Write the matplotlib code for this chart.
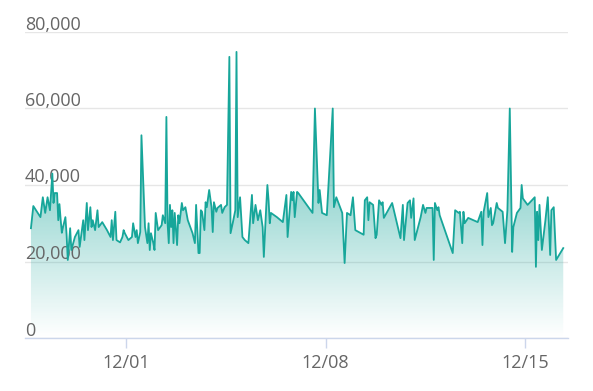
import numpy as np
import pandas as pd
import matplotlib
matplotlib.use("Agg")
import matplotlib.pyplot as plt
import matplotlib.dates as mdates
import matplotlib.transforms as mtransforms
from matplotlib.colors import LinearSegmentedColormap

# hours since 2023-11-27 00:00, values in thousands
hours = [
    16, 18, 24, 26, 28, 30, 32, 34, 35, 36, 38, 39, 40, 41, 42, 43, 45, 46, 47, 49,
    50, 53, 56, 57, 60, 61, 63, 64, 66, 67, 68, 70, 72, 73, 76, 80, 83, 84, 85, 87,
    88, 91, 93, 94, 95, 98, 101,
    102, 104, 105, 106, 108, 109, 112, 114, 115, 116, 117, 119, 120, 121, 123, 126,
    127, 129, 130, 131, 132, 133, 134, 135, 136, 137, 139, 140, 141, 143, 144, 146,
    148, 152, 154, 155, 157, 158, 159, 160, 162, 163, 164, 166, 168, 169, 170, 172,
    173, 176, 177, 179, 181, 183, 184, 186, 188, 189, 190, 192, 194, 196,
    199, 202, 203, 205, 207, 209, 211, 212, 214, 215, 216, 217, 218, 223, 228, 231,
    232, 235, 236, 237, 238, 240, 241, 253, 255, 258, 259, 261, 265, 270, 271, 273,
    278, 280, 282, 285,
    287, 289, 296, 297, 299, 300, 301, 304, 306, 307, 309, 311, 312, 313, 320, 327,
    329, 330, 333, 335, 336, 338, 339, 344, 346, 348, 349, 354, 355, 356, 358, 359,
    360, 371,
    373, 376, 377, 379, 380, 381, 384, 392, 395, 396, 397, 400, 401, 403, 404, 405,
    408, 409, 413, 415, 417, 419, 421, 422, 425, 428, 429, 430, 434, 440, 441, 442,
    443, 444, 446, 449, 451, 453, 454, 456, 458, 464,
]
values = [
    28.7, 34.5, 31.6, 36.8, 32.7, 36.8, 33.4, 43.0, 35.3, 37.9, 37.9, 30.8, 35.0, 31.0,
    27.5, 29.0, 31.6, 27.0, 20.4, 28.7, 23.0, 26.4, 28.2, 23.8, 30.8, 25.6, 35.3, 28.2,
    34.2, 29.0, 30.8, 28.2, 33.4, 29.0, 30.3, 28.2, 26.4, 30.8, 25.6, 33.0, 25.6, 25.0,
    26.4, 28.2, 27.4, 25.6, 26.4,
    30.0, 26.4, 28.2, 24.8, 27.7, 53.0, 29.0, 24.8, 30.0, 23.0, 27.4, 24.8, 23.0, 32.7,
    28.2, 29.5, 32.1, 30.0, 57.8, 30.0, 24.8, 34.8, 29.0, 33.4, 24.8, 32.7, 24.3, 32.1,
    30.0, 35.3, 33.4, 34.2, 30.8, 27.4, 24.8, 34.8, 22.2, 22.2, 33.4, 33.0, 28.2, 35.5,
    34.2, 38.7, 34.2, 27.7, 35.5, 33.0, 34.0, 34.8, 32.7, 34.2, 34.8, 73.5, 27.4, 30.3,
    33.4, 74.8, 31.6, 36.8, 26.4, 25.6,
    24.8, 37.4, 30.0, 34.8, 30.8, 33.4, 29.0, 21.2, 34.2, 40.0, 36.0, 30.0, 32.7, 31.6,
    30.3, 37.4, 26.4, 38.2, 36.0, 38.2, 31.6, 38.2, 37.9, 32.7, 60.0, 35.3, 38.7, 32.7,
    32.1, 60.0, 34.2, 36.8, 32.7, 19.6, 32.7, 32.1,
    36.8, 28.2, 27.0, 36.0, 36.8, 30.8, 35.5, 34.8, 26.1, 27.0, 36.0, 34.8, 35.5, 31.4,
    35.3, 26.1, 34.8, 25.6, 35.3, 36.0, 31.4, 36.5, 25.6, 31.6, 34.8, 32.7, 34.0, 34.0,
    20.4, 35.3, 33.4, 34.2, 32.1, 22.2,
    33.4, 32.7, 33.0, 24.8, 33.0, 30.0, 31.4, 30.3, 33.0, 24.3, 33.0, 37.9, 31.6, 34.0,
    29.5, 30.0, 35.3, 34.0, 33.0, 24.8, 33.4, 60.0, 22.5, 29.0, 32.7, 34.0, 40.0, 36.5,
    34.8, 36.8, 18.6, 33.0, 25.6, 34.8, 23.0, 30.8, 36.8, 21.7, 33.4, 34.2, 20.4, 23.5,
]
y_ticks = [0, 20000, 40000, 60000, 80000]
x_ticks = ["2023-12-01", "2023-12-08", "2023-12-15"]

start = pd.Timestamp("2023-11-27")
times = start + pd.to_timedelta(hours, unit="h")
vals = np.array(values) * 1000
xnum = mdates.date2num(times.to_pydatetime())

line_color = "#17a69a"

fig = plt.figure(figsize=(5.93, 3.91), dpi=100)
ax = fig.add_axes([25 / 593, 53 / 391, 543 / 593, 306 / 391])

ax.set_ylim(0, 80000)
ax.set_xlim(start + pd.Timedelta(hours=11), start + pd.Timedelta(hours=468))

# gradient area under the line
poly = ax.fill_between(xnum, vals, 0, color="none", lw=0)
cmap = LinearSegmentedColormap.from_list(
    "g", [(0.09, 0.65, 0.6, 0.0), (0.09, 0.65, 0.6, 0.9)])
grad = np.linspace(0, 1, 256).reshape(-1, 1)
x0, x1 = ax.get_xlim()
img = ax.imshow(grad, cmap=cmap, aspect="auto", origin="lower",
                extent=[x0, x1, 0, 80000], zorder=1)
img.set_clip_path(poly.get_paths()[0], transform=ax.transData)

ax.plot(xnum, vals, color=line_color, lw=1.3, zorder=3)

# grid and axes
ax.set_yticks(y_ticks)
ax.yaxis.grid(True, color="#e6e6e6", lw=1)
ax.set_axisbelow(True)
ax.tick_params(axis="y", left=False, labelleft=False)
for s in ["top", "right", "left"]:
    ax.spines[s].set_visible(False)
ax.spines["bottom"].set_color("#ccd6eb")
ax.spines["bottom"].set_linewidth(1)
ax.spines["bottom"].set_zorder(4)

ax.set_xticks([mdates.date2num(pd.Timestamp(t)) for t in x_ticks])
ax.xaxis.set_major_formatter(mdates.DateFormatter("%m/%d"))
ax.tick_params(axis="x", length=7.5, color="#ccd6eb", width=1, pad=4,
               labelsize=13, labelcolor="#666666")
for lab in ax.get_xticklabels():
    lab.set_fontfamily("Open Sans")

# y labels sit above their grid lines, inside the plot
trans = mtransforms.blended_transform_factory(ax.transAxes, ax.transData)
off = mtransforms.offset_copy(trans, fig=fig, x=0, y=2.5, units="dots")
for v in y_ticks:
    ax.text(0.0, v, f"{v:,}", transform=off, ha="left", va="baseline",
            fontsize=13, color="#666666", family="Open Sans", zorder=2)

fig.savefig("out.png", dpi=100)
